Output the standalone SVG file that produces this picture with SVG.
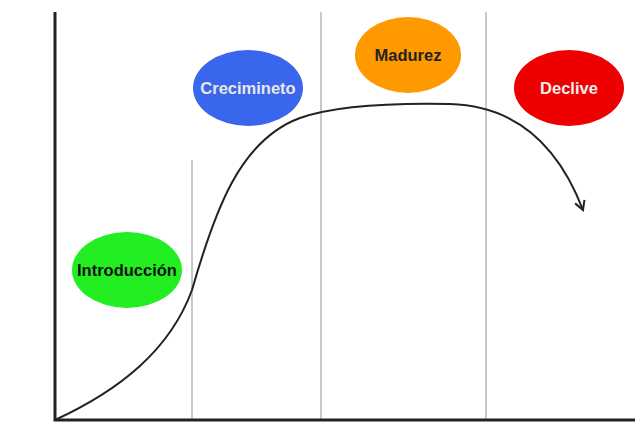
<svg xmlns="http://www.w3.org/2000/svg" width="640" height="435" viewBox="0 0 640 435">
<style>
.node text{font-family:"Liberation Sans",Arial,sans-serif;font-weight:bold;font-size:16.5px;text-anchor:middle;dominant-baseline:central}
.grid{stroke:#c8c8c8;stroke-width:2}
.axis{stroke:#222;stroke-width:3;fill:none}
</style>
<defs>
<marker id="arr" viewBox="0 0 12 12" refX="10" refY="6" markerWidth="12" markerHeight="12" markerUnits="userSpaceOnUse" orient="auto">
<path d="M1,1 L10,6 L1,11" fill="none" stroke="#222" stroke-width="2"/>
</marker>
</defs>
<rect width="640" height="435" fill="#fff"/>
<g id="connectors">
<line class="grid" x1="192" y1="160" x2="192" y2="420"/>
<line class="grid" x1="321" y1="12" x2="321" y2="420"/>
<line class="grid" x1="486" y1="12" x2="486" y2="420"/>
<path class="axis" d="M55,12 L55,420 L635,420"/>
<path d="M55,420 C120,390 170,350 192,290 C215,210 240,140 300,118 C340,104 400,103 450,104 C520,106 560,150 583,210" fill="none" stroke="#222" stroke-width="2" marker-end="url(#arr)"/>
</g>
<g id="introduccion" class="node">
<ellipse cx="127" cy="270" rx="55" ry="38" fill="#22ee22"/>
<text x="127" y="270" fill="#111">Introducción</text>
</g>
<g id="crecimineto" class="node">
<ellipse cx="248" cy="88" rx="55" ry="38" fill="#3a66ee"/>
<text x="248" y="88" fill="#e8e8e8">Crecimineto</text>
</g>
<g id="madurez" class="node">
<ellipse cx="408" cy="55" rx="53" ry="38" fill="#ff9900"/>
<text x="408" y="55" fill="#222">Madurez</text>
</g>
<g id="declive" class="node">
<ellipse cx="569" cy="88" rx="55" ry="38" fill="#ee0000"/>
<text x="569" y="88" fill="#eeeeee">Declive</text>
</g>
</svg>
